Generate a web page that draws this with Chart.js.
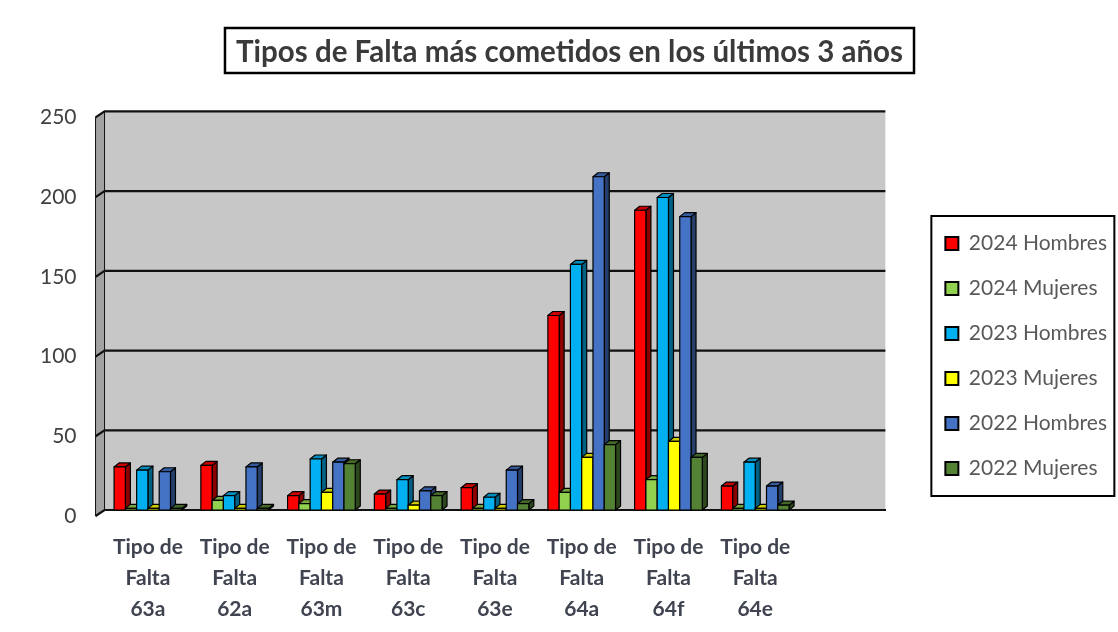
<!DOCTYPE html>
<html>
<head>
<meta charset="utf-8">
<script src="https://cdn.jsdelivr.net/npm/chart.js@4.4.1/dist/chart.umd.min.js"></script>
<style>
  html, body { margin: 0; padding: 0; background: #fff; }
  #wrap { width: 1118px; height: 632px; }
</style>
</head>
<body>
<div id="wrap"><canvas id="faltas"></canvas></div>
<script>
// tipos de falta (the last slot is left empty, as in the sheet)
const categories = ['63a', '62a', '63m', '63c', '63e', '64a', '64f', '64e', ''];

const hombres2024 = [27, 28, 9, 10, 14, 122, 188, 15];
const mujeres2024 = [1, 6, 4, 1, 1, 11, 19, 1];
const hombres2023 = [25, 9, 32, 19, 8, 154, 196, 30];
const mujeres2023 = [1, 1, 11, 3, 1, 33, 43, 1];
const hombres2022 = [24, 27, 30, 12, 25, 209, 184, 15];
const mujeres2022 = [1, 1, 29, 9, 4, 41, 33, 3];

const yTicks = [0, 50, 100, 150, 200, 250];

const seriesNames = ['2024 Hombres', '2024 Mujeres', '2023 Hombres', '2023 Mujeres', '2022 Hombres', '2022 Mujeres'];
const seriesColors = ['#ff0000', '#92d050', '#00b0f0', '#ffff00', '#4472c4', '#548235'];
const seriesData = [hombres2024, mujeres2024, hombres2023, mujeres2023, hombres2022, mujeres2022];

const DX = 5, DY = 4; // depth of the fake 3d
const LEGEND_SHIFT = { x: 36, y: 31 };
const TITLE_SHIFT = 23;

function shade(hex, f) {
  const n = parseInt(hex.slice(1), 16);
  const r = Math.round(((n >> 16) & 255) * f);
  const g = Math.round(((n >> 8) & 255) * f);
  const b = Math.round((n & 255) * f);
  return `rgb(${r},${g},${b})`;
}

function poly(ctx, pts, fill) {
  ctx.beginPath();
  ctx.moveTo(pts[0][0], pts[0][1]);
  for (let i = 1; i < pts.length; i++) ctx.lineTo(pts[i][0], pts[i][1]);
  ctx.closePath();
  ctx.fillStyle = fill;
  ctx.fill();
  ctx.stroke();
}

// grey back wall, left wall and floor line
const wallPlugin = {
  id: 'wall',
  afterLayout(chart) {
    // push the legend away from the plot, title a bit to the right
    const lg = chart.legend;
    lg.left += LEGEND_SHIFT.x; lg.right += LEGEND_SHIFT.x;
    lg.top += LEGEND_SHIFT.y; lg.bottom += LEGEND_SHIFT.y;
    chart.titleBlock.left += TITLE_SHIFT;
    chart.titleBlock.right += TITLE_SHIFT;
  },
  beforeDraw(chart) {
    const { ctx, chartArea: a, scales } = chart;
    ctx.save();
    ctx.fillStyle = '#c7c7c7';
    ctx.fillRect(a.left, a.top, a.right - a.left, a.bottom - a.top);
    ctx.strokeStyle = '#111';
    ctx.lineWidth = 1;
    poly(ctx, [[a.left - 9, a.top + 6], [a.left, a.top], [a.left, a.bottom], [a.left - 9, a.bottom + 6]], '#a2a2a2');
    ctx.lineWidth = 2.2;
    yTicks.forEach(t => {
      const y = scales.y.getPixelForValue(t);
      ctx.beginPath();
      ctx.moveTo(a.left - 9, y + 6);
      ctx.lineTo(a.left, y);
      ctx.lineTo(a.right, y);
      ctx.stroke();
    });
    ctx.restore();
  },
  afterDraw(chart) {
    const { ctx } = chart;
    ctx.save();
    // title frame
    const t = chart.titleBlock;
    const tf = chart.options.plugins.title.font;
    ctx.font = tf.weight + ' ' + tf.size + 'px Lato';
    const w = ctx.measureText(chart.options.plugins.title.text).width;
    const cx = (t.left + t.right) / 2;
    ctx.strokeStyle = '#000';
    ctx.lineWidth = 2.5;
    ctx.strokeRect(cx - w / 2 - 11, 28, w + 22, 45);
    // legend frame
    const hb = chart.legend.legendHitBoxes;
    const top = Math.min(...hb.map(h => h.top));
    const bot = Math.max(...hb.map(h => h.top + h.height));
    const left = Math.min(...hb.map(h => h.left));
    ctx.lineWidth = 2;
    ctx.strokeRect(left - 14, top - 17, 183, bot - top + 34);
    ctx.restore();
  },
  // bars are drawn left to right with a side and top face
  beforeDatasetsDraw(chart) {
    const { ctx } = chart;
    const bars = [];
    chart.data.datasets.forEach((ds, i) => {
      chart.getDatasetMeta(i).data.forEach((el, j) => {
        if (ds.data[j] == null) return;
        bars.push({ el, color: seriesColors[i] });
      });
    });
    bars.sort((p, q) => p.el.x - q.el.x);
    ctx.save();
    ctx.strokeStyle = '#000';
    ctx.lineWidth = 1.2;
    ctx.lineJoin = 'round';
    bars.forEach(({ el, color }) => {
      const l = el.x - el.width / 2, r = el.x + el.width / 2;
      const y = el.y, b = el.base;
      poly(ctx, [[r, y], [r + DX, y - DY], [r + DX, b - DY], [r, b]], shade(color, 0.55));
      poly(ctx, [[l, y], [l + DX, y - DY], [r + DX, y - DY], [r, y]], shade(color, 0.8));
      poly(ctx, [[l, y], [r, y], [r, b], [l, b]], color);
    });
    ctx.restore();
    return false;
  }
};

new Chart(document.getElementById('faltas'), {
  type: 'bar',
  data: {
    labels: categories.map(c => c ? ['Tipo de', 'Falta', c] : ''),
    datasets: seriesNames.map((name, i) => ({
      label: name,
      data: seriesData[i],
      backgroundColor: seriesColors[i],
      borderColor: '#000',
      borderWidth: 2,
      categoryPercentage: 0.78,
      barPercentage: 1.0
    }))
  },
  options: {
    responsive: true,
    maintainAspectRatio: false,
    animation: false,
    layout: { padding: { left: 12, right: 37, top: 18, bottom: 0 } },
    plugins: {
      tooltip: { enabled: false },
      title: {
        display: true,
        text: 'Tipos de Falta más cometidos en los últimos 3 años',
        color: '#3a3a3a',
        font: { family: 'Lato', size: 29.5, weight: 'bold' },
        padding: { top: 17, bottom: 41 }
      },
      legend: {
        position: 'right',
        align: 'center',
        labels: {
          color: '#595959',
          font: { family: 'Lato', size: 21 },
          boxWidth: 13,
          boxHeight: 13,
          padding: 24
        }
      }
    },
    scales: {
      x: {
        grid: { display: false, drawTicks: false },
        border: { display: true, color: '#111', width: 2 },
        ticks: {
          color: '#3f4450',
          font: { family: 'Lato', size: 21, weight: 'bold', lineHeight: 1.48 },
          maxRotation: 0,
          padding: 22
        },
        afterFit(scale) { scale.height = 122; }
      },
      y: {
        min: 0,
        max: 250,
        grid: { display: false, drawTicks: false },
        border: { display: false },
        ticks: {
          stepSize: 50,
          color: '#404040',
          font: { family: 'Lato', size: 21 },
          padding: 28,
          labelOffset: 6
        }
      }
    }
  },
  plugins: [wallPlugin]
});
</script>
</body>
</html>
